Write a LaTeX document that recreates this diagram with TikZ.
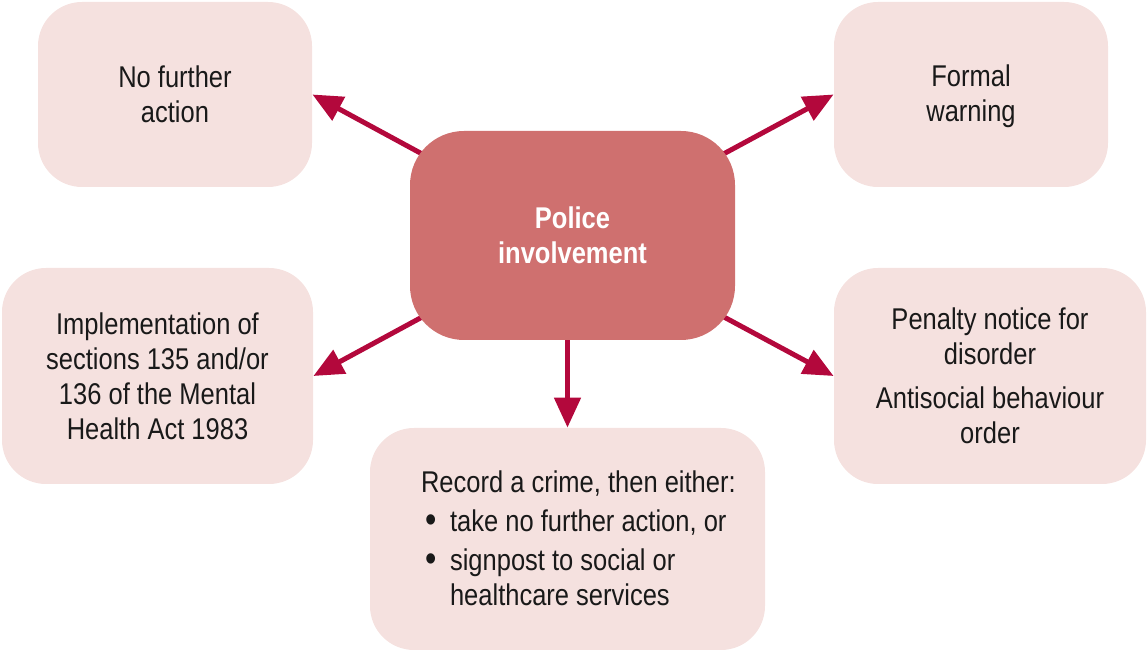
\documentclass[tikz,border=0pt]{standalone}
\usepackage{fontspec}
\setmainfont{Liberation Sans}[FakeStretch=0.85]
\usetikzlibrary{arrows.meta,backgrounds}
\definecolor{boxpink}{HTML}{F5E1DF}
\definecolor{policered}{HTML}{CF706F}
\definecolor{arrowred}{HTML}{B3083C}
\newcommand{\dotitem}{\makebox[14.5pt][l]{\hspace{2pt}\raisebox{-0.5pt}{\fontsize{19}{19}\selectfont\textbullet}}}
\begin{document}
\begin{tikzpicture}[x=0.5pt, y=-0.5pt, >={Triangle[length=15pt,width=13pt]},
  outcome/.style={fill=boxpink, rounded corners=22pt, minimum width=#1, minimum height=108pt, align=center, font=\fontsize{15}{17.5}\selectfont, text=black!90},
  outcome/.default=137pt,
  centre/.style={fill=policered, rounded corners=27pt, minimum width=162.5pt, minimum height=104.5pt, align=center, text=white, font=\fontsize{15}{17.5}\selectfont\bfseries},
  link/.style={->, draw=arrowred, line width=2.5pt}]
  \useasboundingbox (0,0) rectangle (1147,651);
  \node [centre] (pol) at (572.5,235.5) {Police\\involvement};
  \node [outcome, minimum height=92.5pt] (nfa) at (175,94.5) {No further\\action};
  \node [outcome, minimum height=92.5pt] (fw) at (971,94.5) {\rule{0pt}{13pt}Formal\\warning};
  \node [outcome=155.5pt] (impl) at (157.5,376) {Implementation of\\sections 135 and/or\\136 of the Mental\\Health Act 1983};
  \node [outcome=156pt] (pen) at (990,376) {Penalty notice for\\disorder\\[4.5pt]Antisocial behaviour\\order};
  \node [outcome=197.5pt, minimum height=111pt] (rec) at (567.5,539) {};
  \node [align=left, font=\fontsize{15}{17.5}\selectfont, text=black!90, anchor=west] (rectxt) at (414,538)
    {Record a crime, then either:\\[2pt]
     \dotitem take no further action, or\\[2pt]
     \dotitem signpost to social or\\
     \hspace{14.5pt}healthcare services};

  \begin{scope}[on background layer]
    \draw [link] (pol.center) -- (nfa.east);
    \draw [link] (pol.center) -- (fw.west);
    \draw [link] (pol.center) -- (impl.east);
    \draw [link] (pol.center) -- (pen.west);
    \draw [link] (rec.north |- pol.center) -- (rec.north);
  \end{scope}
\end{tikzpicture}
\end{document}
